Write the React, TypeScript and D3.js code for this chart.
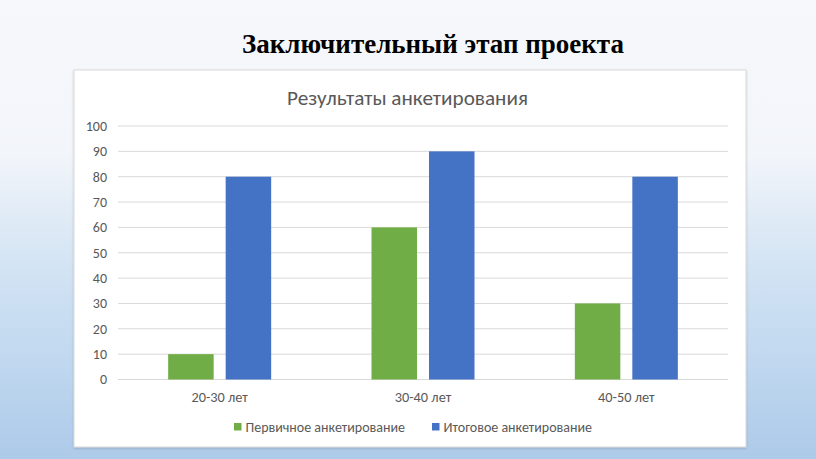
import React from "react";
import * as d3 from "d3";

const categories = ["20-30 лет", "30-40 лет", "40-50 лет"];
const seriesNames = ["Первичное анкетирование", "Итоговое анкетирование"];
const primaryValues = [10, 60, 30];
const finalValues = [80, 90, 80];
const yTicks = [0, 10, 20, 30, 40, 50, 60, 70, 80, 90, 100];
const seriesColors = ["#70ad47", "#4472c4"];

export default function App() {
  const W = 816, H = 459;
  const plot = { left: 118, right: 728, top: 126, bottom: 379.5 };
  const x = d3.scaleBand<string>().domain(categories).range([plot.left, plot.right]).paddingInner(0).paddingOuter(0);
  const y = d3.scaleLinear().domain([0, 100]).range([plot.bottom, plot.top]);
  const barW = 45.5;
  const gap = 12;
  const series = [primaryValues, finalValues];
  const font = "Calibri, Carlito, 'Open Sans', 'Noto Sans', sans-serif";
  return (
    <svg width={W} height={H} style={{ position: "absolute", left: 0, top: 0 }}>
      <defs>
        <linearGradient id="bg" x1="0" y1="0" x2="0" y2="1">
          <stop offset="0" stopColor="#f6f8fb" />
          <stop offset="0.34" stopColor="#f2f5fa" />
          <stop offset="0.47" stopColor="#e0ebf6" />
          <stop offset="0.62" stopColor="#cfe1f3" />
          <stop offset="0.8" stopColor="#bfd7ef" />
          <stop offset="1" stopColor="#adcae9" />
        </linearGradient>
        <filter id="sh" x="-5%" y="-5%" width="110%" height="110%">
          <feDropShadow dx="0" dy="1" stdDeviation="1.2" floodColor="#000" floodOpacity="0.18" />
        </filter>
      </defs>
      <rect x={0} y={0} width={W} height={H} fill="url(#bg)" />
      <text x={433} y={53} textAnchor="middle" fontFamily="'Times New Roman', 'Liberation Serif', serif" fontWeight="bold" fontSize={27} fill="#000">
        Заключительный этап проекта
      </text>
      <rect x={74} y={70} width={672} height={377} fill="#fff" stroke="#d9d9d9" strokeWidth={1} filter="url(#sh)" />
      <text x={407.5} y={105} textAnchor="middle" fontFamily={font} fontSize={21.2} fill="#595959">
        Результаты анкетирования
      </text>
      {yTicks.map((t) => (
        <g key={t}>
          <line x1={plot.left} x2={plot.right} y1={y(t)} y2={y(t)} stroke="#d9d9d9" strokeWidth={1} />
          <text x={107} y={y(t)} dy="0.35em" textAnchor="end" fontFamily={font} fontSize={14} fill="#595959">
            {t}
          </text>
        </g>
      ))}
      {categories.map((c, i) => {
        const cx = (x(c) as number) + x.bandwidth() / 2;
        return (
          <g key={c}>
            {series.map((vals, s) => {
              const bx = s === 0 ? cx - gap / 2 - barW : cx + gap / 2;
              return (
                <rect key={s} x={bx} y={y(vals[i])} width={barW} height={y(0) - y(vals[i])} fill={seriesColors[s]} />
              );
            })}
            <text x={cx} y={397} dy="0.35em" textAnchor="middle" fontFamily={font} fontSize={14.3} fill="#595959">
              {c}
            </text>
          </g>
        );
      })}
      {seriesNames.map((n, s) => {
        const lx = s === 0 ? 234 : 432;
        return (
          <g key={n}>
            <rect x={lx} y={423} width={7.5} height={7.5} fill={seriesColors[s]} />
            <text x={lx + 11.5} y={427} dy="0.35em" fontFamily={font} fontSize={14} fill="#595959">
              {n}
            </text>
          </g>
        );
      })}
    </svg>
  );
}
